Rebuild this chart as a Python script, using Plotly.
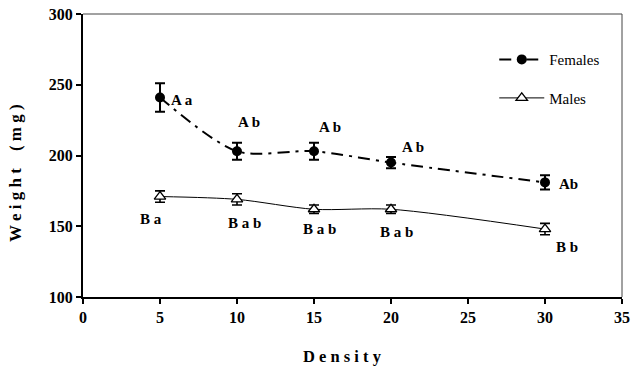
import plotly.graph_objects as go

density = [5, 10, 15, 20, 30]
females = [241, 203, 203, 195, 181]
females_err = [10, 6, 6, 4, 5]
males = [171, 169, 162, 162, 148]
males_err = [4, 4, 3, 3, 4]

fem_labels = ["A a", "A b", "A b", "A b", "Ab"]
fem_lab_x = [6.4, 10.75, 16.05, 21.45, 31.5]
fem_lab_y = [239, 224, 220, 206, 180]
male_labels = ["B a", "B a b", "B a b", "B a b", "B b"]
male_lab_x = [4.4, 10.5, 15.35, 20.35, 31.45]
male_lab_y = [155, 152.4, 148, 146, 135.5]

x_ticks = [0, 5, 10, 15, 20, 25, 30, 35]
y_ticks = [100, 150, 200, 250, 300]

x_title = "D e n s i t y"
y_title = "W e i g h t&nbsp;&nbsp;&nbsp;&nbsp;( m g )"

serif = "Liberation Serif"

fig = go.Figure()
fig.add_trace(go.Scatter(
    x=density, y=females, name="Females", mode="lines+markers",
    line=dict(color="black", width=2, dash="12px,6px,3px,6px", shape="spline", smoothing=0.8),
    marker=dict(symbol="circle", size=10, color="black"),
    error_y=dict(type="data", array=females_err, color="black", thickness=2, width=5),
    legendgroup="f",
))
fig.add_trace(go.Scatter(
    x=density, y=males, name="Males", mode="lines+markers",
    line=dict(color="black", width=1, shape="spline", smoothing=0.8),
    marker=dict(symbol="triangle-up", size=10, color="white", line=dict(color="black", width=1.3)),
    error_y=dict(type="data", array=males_err, color="black", thickness=1.6, width=5),
    legendgroup="m",
))

for t, x, y in zip(fem_labels, fem_lab_x, fem_lab_y):
    fig.add_annotation(x=x, y=y, text="<b>" + t + "</b>", showarrow=False,
                       font=dict(family=serif, size=15, color="black"))
for t, x, y in zip(male_labels, male_lab_x, male_lab_y):
    fig.add_annotation(x=x, y=y, text="<b>" + t + "</b>", showarrow=False,
                       font=dict(family=serif, size=15, color="black"))

# axis titles
fig.add_annotation(xref="paper", yref="paper", x=0.481, y=-0.211, text="<b>" + x_title + "</b>",
                   showarrow=False, xanchor="center", yanchor="middle",
                   font=dict(family=serif, size=16.5, color="black"))
fig.add_annotation(xref="paper", yref="paper", x=-0.124, y=0.439, text="<b>" + y_title + "</b>",
                   showarrow=False, xanchor="center", yanchor="middle", textangle=-90,
                   font=dict(family=serif, size=17, color="black"))

# top and right frame
fig.add_shape(type="line", xref="paper", yref="paper", x0=0, x1=1, y0=1, y1=1,
              line=dict(color="#444", width=1))
fig.add_shape(type="line", xref="paper", yref="paper", x0=1, x1=1, y0=0, y1=1,
              line=dict(color="#444", width=1))

fig.update_layout(
    width=631, height=369,
    margin=dict(l=83, r=9, t=14, b=72),
    paper_bgcolor="white", plot_bgcolor="white",
    showlegend=True,
    legend=dict(x=0.763, y=0.897, xanchor="left", yanchor="top",
                font=dict(family=serif, size=15, color="black"),
                tracegroupgap=16, itemwidth=45, bgcolor="rgba(0,0,0,0)",
                traceorder="grouped"),
    xaxis=dict(range=[0, 35], tickvals=x_ticks, showgrid=False, zeroline=False,
               automargin=False,
               showline=True, linecolor="black", linewidth=2,
               ticks="outside", ticklen=5, tickwidth=2, tickcolor="black",
               tickfont=dict(family=serif, size=16, color="black", weight="bold")),
    yaxis=dict(range=[100, 300], tickvals=y_ticks, showgrid=False, zeroline=False,
               automargin=False,
               showline=True, linecolor="black", linewidth=2,
               ticks="outside", ticklen=5, tickwidth=2, tickcolor="black",
               tickfont=dict(family=serif, size=16, color="black", weight="bold")),
)

fig.write_html("out.html")
